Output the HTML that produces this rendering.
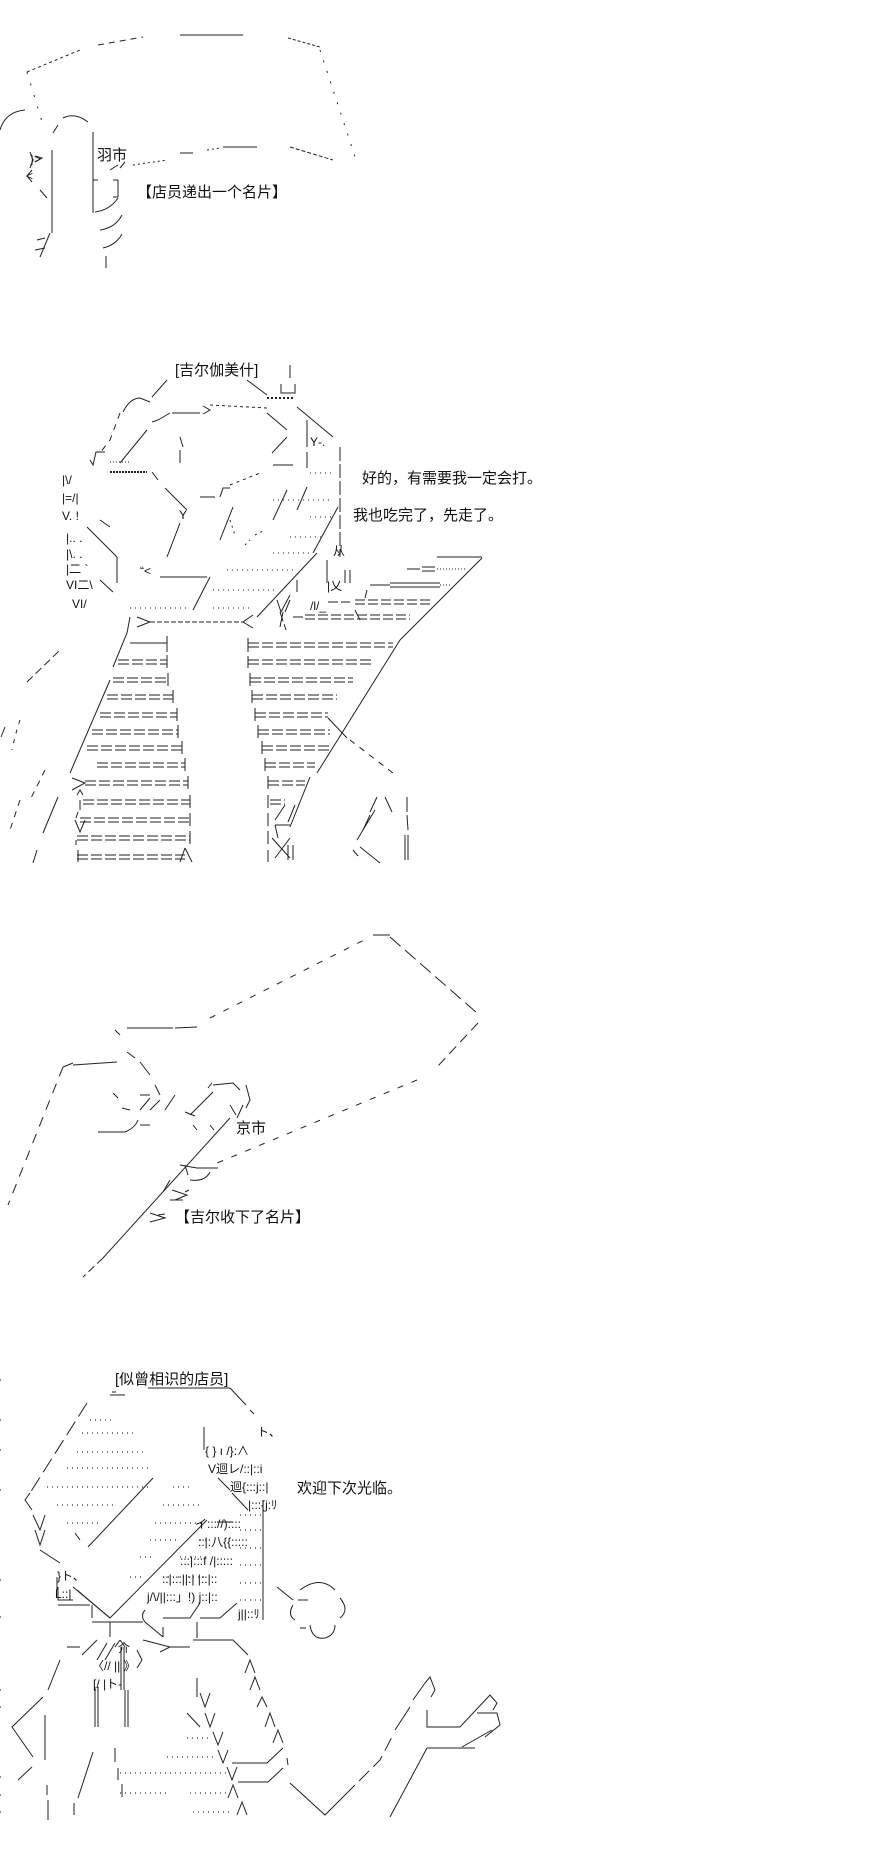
<!DOCTYPE html>
<html><head><meta charset="utf-8"><style>
html,body{margin:0;padding:0;background:#fff;}
svg{display:block;}
text{font-family:"Liberation Sans","Noto Sans CJK SC",sans-serif;fill:#111;}
.t{font-size:15px;}
.a{font-size:12px;}
</style></head><body>
<svg width="890" height="1859" viewBox="0 0 890 1859" xmlns="http://www.w3.org/2000/svg">
<rect width="890" height="1859" fill="#fff"/>
<g stroke="#222" stroke-width="1" fill="none">
<!-- ===== Section 1 ===== -->
<path d="M27 72 L80 50" stroke-dasharray="3 3"/>
<path d="M98 45 L143 37" stroke-dasharray="6 5"/>
<path d="M180 35 L243 35"/>
<path d="M288 38 L320 47" stroke-dasharray="3 2"/>
<path d="M320 50 L357 163" stroke-dasharray="2 9"/>
<path d="M133 165 L167 160" stroke-dasharray="2 3"/>
<path d="M180 153 L193 153"/>
<path d="M207 150 L220 148" stroke-dasharray="2 3"/>
<path d="M223 147 L257 147"/>
<path d="M290 147 L333 160" stroke-dasharray="4 2"/>
<path d="M27 72 L43 125" stroke-dasharray="2 10"/>
<path d="M0 130 Q5 112 25 110"/>
<path d="M52 150 L52 233 M50 233 L40 257"/>
<path d="M58 125 L53 133 M63 118 Q75 112 88 122"/>
<path d="M93 132 L93 213"/>
<path d="M93 180 L98 180 M118 180 L118 197 M113 180 L118 180 M113 197 L118 197"/>
<path d="M95 212 Q110 210 118 198 M100 230 Q115 228 122 215 M103 248 Q116 245 122 234 M106 256 L106 268"/>
<path d="M30 152 L33 160 L30 168 M35 156 L42 158 L35 162 M32 170 L27 176 L32 182 M40 190 L47 198" />
<path d="M110 170 L118 165 M120 168 L125 162"/>
<path d="M37 240 L45 238 M35 250 L45 248"/>
<!-- ===== Section 2 ===== -->
<path d="M167 380 L152 397"/>
<path d="M123 412 Q130 398 140 398 L150 402"/>
<path d="M247 380 L267 395"/>
<path d="M290 365 L290 378 M281 384 L281 393 L295 393 L295 384"/>
<path d="M172 413 L200 413 M203 406 L210 410 L203 414"/>
<path d="M210 405 L267 408" stroke-dasharray="3 3"/>
<path d="M267 398 L293 398" stroke-dasharray="2 2" stroke-width="2"/>
<path d="M267 413 L287 430 M297 407 L333 437"/>
<path d="M340 447 L340 557" stroke-dasharray="14 3"/>
<path d="M307 420 L307 447 M307 452 L307 468"/>
<path d="M152 422 L158 420 M158 420 L170 413" />
<path d="M120 413 L110 440 L100 453" stroke-dasharray="6 6"/>
<path d="M147 430 L120 463"/>
<path d="M180 437 L183 447 M180 450 L180 463"/>
<path d="M287 437 L272 453 M273 465 L293 465"/>
<path d="M90 460 L93 465 L96 452 L105 452"/>
<path d="M110 472 L147 472" stroke-dasharray="2 1" stroke-width="2"/>
<path d="M110 462 L130 462" stroke-dasharray="1 2"/>
<path d="M152 472 L158 480"/>
<path d="M165 488 L187 510"/>
<path d="M200 497 L215 497 M220 497 L223 488 L230 488"/>
<path d="M230 485 L260 473" stroke-dasharray="3 4"/>
<path d="M233 507 L220 540 M180 523 L167 557"/>
<path d="M287 490 L273 520 M307 487 L297 510"/>
<path d="M338 507 L313 553"/>
<path d="M317 553 L257 617"/>
<path d="M87 527 L117 557 M100 520 L110 527"/>
<path d="M117 557 L117 583"/>
<path d="M160 577 L207 577 M210 577 L193 610"/>
<path d="M100 580 L113 592"/>
<path d="M297 580 L297 592 M327 560 L327 583"/>
<path d="M277 600 L281 612 L290 595"/>
<path d="M230 520 L235 535 M245 545 L250 540 M255 535 L265 530" stroke-dasharray="2 4"/>
<path d="M310 473 L333 473 M273 500 L333 500 M310 517 L333 517 M290 537 L323 537 M273 553 L313 553 M227 570 L293 570 M213 590 L277 590 M130 608 L187 608 M213 608 L253 608" stroke-dasharray="1 4"/>
<path d="M130 617 L127 633 M137 617 L150 622 L137 627"/>
<path d="M150 622 L243 622" stroke-dasharray="5 2"/>
<path d="M253 615 L243 622 L253 628"/>
<path d="M283 612 L280 627 M285 612 L290 600"/>
<!-- parallelogram -->
<path d="M437 557 L482 557"/>
<path d="M482 558 L400 640 M400 640 L317 773 M310 777 L290 827"/>
<path d="M407 569 L420 569 M422 567 L435 567 M422 571 L435 571"/>
<path d="M437 569 L467 569" stroke-dasharray="1 2"/>
<path d="M370 585 L390 585 M390 583 L440 583 M390 587 L440 587" />
<path d="M440 585 L450 585" stroke-dasharray="1 2"/>
<path d="M328 602 L350 602 M355 600 L430 600 M355 604 L430 604" stroke-dasharray="10 3"/>
<path d="M280 612 L286 630 M293 617 L305 617 M305 615 L410 615 M305 619 L410 619" stroke-dasharray="10 3"/>
<path d="M345 570 L345 583 M350 570 L350 583"/>
<path d="M355 610 L360 620 M365 598 L367 590"/>
<!-- left edges stairs -->
<path d="M127 633 L113 667 M110 680 L70 773"/>
<path d="M27 682 L60 650" stroke-dasharray="8 4"/>
<path d="M5 727 L1 737"/>
<path d="M58 797 L43 833 M37 850 L33 863"/>
<path d="M45 770 L30 800 M20 800 L10 830" stroke-dasharray="6 6"/>
<!-- right side lower -->
<path d="M328 718 L347 738"/>
<path d="M350 740 L393 773" stroke-dasharray="6 6"/>
<path d="M407 797 L407 812 M407 815 L408 830"/>
<path d="M377 797 L370 812 M385 797 L392 812 M375 810 L357 840 M370 815 L363 830"/>
<path d="M360 847 L380 863 M353 850 L358 856"/>
<path d="M405 835 L405 860 M408 835 L408 860"/>
<path d="M20 720 Q15 735 12 750" stroke-dasharray="4 6"/>
</g>
<!-- stair rows -->
<g stroke="#222" stroke-width="1" stroke-dasharray="11 3">
<path d="M118 660 L167 660 M118 664 L167 664"/>
<path d="M113 678 L168 678 M113 682 L168 682"/>
<path d="M107 695 L173 695 M107 699 L173 699"/>
<path d="M100 713 L177 713 M100 717 L177 717"/>
<path d="M92 730 L178 730 M92 734 L178 734"/>
<path d="M87 746 L182 746 M87 750 L182 750"/>
<path d="M97 763 L185 763 M97 767 L185 767"/>
<path d="M85 781 L188 781 M85 785 L188 785"/>
<path d="M83 800 L190 800 M83 804 L190 804"/>
<path d="M80 818 L190 818 M80 822 L190 822"/>
<path d="M77 836 L190 836 M77 840 L190 840"/>
<path d="M77 855 L185 855 M77 859 L185 859"/>
<path d="M248 643 L393 643 M248 647 L393 647"/>
<path d="M248 660 L373 660 M248 664 L373 664"/>
<path d="M250 678 L353 678 M250 682 L353 682"/>
<path d="M252 695 L337 695 M252 699 L337 699"/>
<path d="M255 713 L328 713 M255 717 L328 717"/>
<path d="M258 730 L330 730 M258 734 L330 734"/>
<path d="M262 746 L332 746 M262 750 L332 750"/>
<path d="M265 763 L315 763 M265 767 L315 767"/>
<path d="M268 781 L305 781 M268 785 L305 785"/>
<path d="M270 800 L285 800 M270 804 L285 804"/>
</g>
<g stroke="#222" stroke-width="1" fill="none">
<path d="M130 643 L167 643 M167 636 L167 652"/>
<path d="M167 655 L167 668 M168 673 L168 686 M173 690 L173 703 M177 708 L177 721 M178 725 L178 738 M182 741 L182 754 M185 758 L185 771 M188 776 L188 789 M190 795 L190 808 M190 813 L190 826 M190 831 L190 844"/>
<path d="M185 848 L192 862 M185 848 L180 862"/>
<path d="M248 638 L248 652 M248 656 L248 668 M250 673 L250 686 M252 690 L252 703 M255 708 L255 721 M258 725 L258 738 M262 741 L262 754 M265 758 L265 771 M268 776 L268 789 M268 795 L268 808 M268 813 L268 826 M268 831 L268 844 M268 850 L268 862"/>
<path d="M72 778 L85 783 L72 790 M77 795 L80 790 L83 795 M80 800 L80 810 M78 812 L76 818 M75 820 L80 832 L85 820"/>
<path d="M76 840 L76 845 M78 850 L78 862"/>
<path d="M285 805 L275 820 M295 805 L288 822 M275 825 L290 825 M275 825 L278 838 M272 838 L290 858 M290 838 L275 858 M288 845 L288 860 M293 845 L293 860"/>
<!-- ===== Section 3 ===== -->
<path d="M373 935 L390 935"/>
<path d="M390 937 L477 1013" stroke-dasharray="14 6"/>
<path d="M478 1023 L437 1067" stroke-dasharray="10 6"/>
<path d="M115 1030 L120 1035"/>
<path d="M127 1028 L173 1028 M175 1028 L197 1027"/>
<path d="M210 1018 L370 937" stroke-dasharray="6 9"/>
<path d="M417 1080 L217 1163" stroke-dasharray="6 9"/>
<path d="M197 1168 L218 1168"/>
<path d="M73 1065 L117 1062 M63 1067 L73 1063"/>
<path d="M63 1067 L8 1205" stroke-dasharray="10 8"/>
<path d="M127 1052 L135 1058 M140 1062 L150 1075 M155 1085 L160 1095"/>
<path d="M113 1093 L118 1098 M140 1095 L150 1095 M122 1108 L130 1110 M140 1110 L150 1098"/>
<path d="M150 1110 L160 1100 M165 1110 L175 1095 M185 1112 L195 1116 M193 1125 L197 1130 M210 1125 L214 1130"/>
<path d="M98 1132 L125 1132 Q135 1128 138 1120 M140 1125 L150 1125"/>
<path d="M190 1115 L213 1092 M208 1088 L212 1083 M213 1085 L233 1083 L240 1090 M246 1085 L250 1100 L246 1108"/>
<path d="M230 1105 L236 1115 M243 1105 L237 1118"/>
<path d="M230 1118 L103 1258"/>
<path d="M103 1258 L83 1277" stroke-dasharray="8 4"/>
<path d="M197 1168 L180 1165 M185 1165 L188 1175 M190 1180 Q205 1182 210 1172 M170 1180 L163 1192 M172 1190 L187 1195 L175 1200 M170 1200 L183 1200 M150 1213 L165 1218 L150 1222 M158 1215 L165 1214"/>
<path d="M185 1192 L189 1190" />
<!-- ===== Section 4 ===== -->
<path d="M148 1388 L230 1388 M230 1388 L246 1405 M250 1410 L254 1414"/>
<path d="M110 1395 L125 1395 M112 1392 L116 1392"/>
<path d="M87 1403 L30 1493" stroke-dasharray="16 6"/>
<path d="M30 1493 L25 1500 L32 1510 M33 1515 L40 1530 L45 1515 M35 1530 L40 1545 L45 1530 M40 1550 L60 1563"/>
<path d="M153 1478 L88 1547"/>
<path d="M207 1520 L110 1618 L77 1590"/>
<path d="M75 1533 L80 1540"/>
<path d="M204 1427 L204 1450"/>
<path d="M232 1493 L248 1510 M218 1478 L230 1490"/>
<path d="M217 1522 L232 1522"/>
<path d="M263 1500 L263 1620"/>
<path d="M57 1577 L57 1590 M58 1587 L58 1600 L73 1600 M73 1587 L110 1618"/>
<path d="M58 1605 L90 1605 M92 1605 L92 1618 M92 1622 L143 1622 M110 1622 L110 1637"/>
<path d="M145 1610 Q140 1616 145 1622 L163 1637 M163 1627 L163 1637"/>
<path d="M163 1618 L190 1618 M200 1603 L190 1618 M200 1618 L220 1618 L237 1603"/>
<path d="M197 1622 L197 1638"/>
<path d="M67 1647 L80 1647 M97 1640 L82 1655 M107 1643 L97 1660 M115 1643 L105 1660 M120 1640 L115 1647 M120 1640 L125 1647 M121 1647 L121 1690 M124 1647 L124 1690"/>
<path d="M143 1640 L170 1647 L160 1652 M170 1647 L190 1647 M193 1640 L233 1640 L248 1655"/>
<path d="M137 1650 L142 1660 L137 1668"/>
<path d="M95 1687 L95 1727 M98 1687 L98 1727 M125 1690 L125 1727 M128 1690 L128 1727"/>
<path d="M60 1660 L48 1690 M43 1697 L12 1727 L33 1757"/>
<path d="M45 1715 L45 1760 M48 1800 L48 1820 M47 1785 L47 1795"/>
<path d="M32 1767 L18 1780"/>
<path d="M93 1752 L78 1798 M74 1803 L74 1815"/>
<path d="M115 1748 L115 1762 M118 1768 L118 1780 M122 1784 L122 1797"/>
<path d="M197 1678 L197 1697"/>
<path d="M187 1713 L200 1727 M200 1693 L205 1707 L210 1693 M205 1713 L210 1727 L215 1713 M213 1732 L218 1745 L223 1732 M218 1750 L223 1763 L228 1750 M227 1767 L232 1780 L237 1767"/>
<path d="M245 1673 L250 1660 L255 1673 M250 1690 L255 1677 L260 1690 M257 1707 L262 1697 L267 1707 M265 1727 L270 1713 L275 1727 M273 1743 L278 1730 L283 1743 M228 1798 L233 1785 L238 1798 M237 1815 L242 1802 L247 1815"/>
<path d="M232 1763 L267 1763 L283 1748 M238 1782 L268 1782 L283 1768 M287 1758 L288 1765"/>
<path d="M277 1587 L293 1600"/>
<path d="M298 1600 L308 1600 M300 1590 Q320 1575 335 1590 M340 1598 Q350 1610 340 1618 M293 1605 Q287 1615 295 1620 M300 1628 L306 1628 M310 1625 Q312 1640 325 1638 Q335 1635 335 1625"/>
<path d="M290 1783 L325 1815 L345 1795"/>
<path d="M345 1795 L380 1760 L393 1735" stroke-dasharray="14 6"/>
<path d="M395 1730 L410 1707 M413 1700 L425 1683 L430 1677 L435 1690 L431 1697"/>
<path d="M427 1710 L427 1727 L460 1727 L490 1695 L497 1703 L493 1710 M477 1713 L497 1713 L500 1725 L485 1737 M462 1747 L492 1730"/>
<path d="M427 1748 L475 1748 M427 1748 L390 1817" />
<path d="M0 1380 L3 1380 M0 1420 L3 1420 M0 1450 L3 1450 M0 1490 L3 1490 M0 1580 L3 1580 M0 1617 L3 1617 M0 1690 L3 1690 M0 1707 L3 1707 M0 1777 L3 1777 M0 1795 L3 1795 M0 1812 L3 1812" stroke-dasharray="1 2"/>
</g>
<!-- dotted hatch -->
<g stroke="#333" stroke-width="1.2" stroke-dasharray="1 4">
<path d="M90 1420 L113 1420 M82 1433 L133 1433 M77 1452 L143 1452 M67 1468 L152 1468 M47 1487 L150 1487 M173 1487 L193 1487 M57 1505 L117 1505 M163 1505 L203 1505 M67 1523 L100 1523 M155 1523 L205 1523 M150 1540 L177 1540 M200 1540 L207 1540 M140 1557 L155 1557 M180 1557 L207 1557 M130 1577 L145 1577 M163 1577 L207 1577"/>
<path d="M240 1515 L263 1515 M240 1530 L263 1530 M240 1548 L263 1548 M240 1565 L263 1565 M240 1583 L263 1583 M240 1600 L263 1600"/>
<path d="M187 1738 L210 1738 M167 1757 L217 1757 M120 1773 L227 1773 M120 1793 L167 1793 M190 1793 L227 1793 M193 1812 L233 1812"/>
</g>
<!-- AA text fragments -->
<g class="a">
<text x="30" y="163" class="a">}&gt;</text>
<text x="26" y="180" class="a">&lt;</text>
<text x="62" y="484" class="a">|\/</text>
<text x="62" y="502" class="a">|=/|</text>
<text x="62" y="520" class="a">V. !</text>
<text x="66" y="542" class="a">|.. .</text>
<text x="66" y="558" class="a">|\. .</text>
<text x="66" y="573" class="a">|二 `</text>
<text x="66" y="589" class="a">VI二\</text>
<text x="72" y="608" class="a">VI/</text>
<text x="140" y="575" class="a">“&lt;</text>
<text x="179" y="519" class="a">Y</text>
<text x="310" y="446" class="a">Y‐.</text>
<text x="333" y="555" class="a">从</text>
<text x="327" y="590" class="a">|乂</text>
<text x="310" y="610" class="a">/l/_</text>
<text x="205" y="1455" class="a">{ }  ı  /}:∧</text>
<text x="257" y="1436" class="a">ト、</text>
<text x="208" y="1473" class="a">V迴レ/::|::i</text>
<text x="230" y="1491" class="a">迴{:::j::|</text>
<text x="248" y="1509" class="a">|:::{j:ﾘ</text>
<text x="195" y="1528" class="a">イ::://)::::</text>
<text x="198" y="1546" class="a">::|:八{{:::::</text>
<text x="180" y="1565" class="a">:::|:::f  /|:::::</text>
<text x="162" y="1583" class="a">::|:::||:|  |::|::</text>
<text x="147" y="1601" class="a">j/\/||:::」!)  j::|::</text>
<text x="238" y="1618" class="a">j||::ﾘ</text>
<text x="57" y="1580" class="a">}ト、</text>
<text x="55" y="1598" class="a">L::|</text>
<text x="118" y="1652" class="a">介</text>
<text x="92" y="1670" class="a">〈// ||   》</text>
<text x="93" y="1688" class="a">[/    |ト‐</text>
</g>
<!-- main labels -->
<g class="t">
<text x="97" y="160" class="t">羽市</text>
<text x="137" y="197" class="t">【店员递出一个名片】</text>
<text x="175" y="375" class="t">[吉尔伽美什]</text>
<text x="362" y="483" class="t">好的，有需要我一定会打。</text>
<text x="353" y="520" class="t">我也吃完了，先走了。</text>
<text x="236" y="1133" class="t">京市</text>
<text x="175" y="1222" class="t">【吉尔收下了名片】</text>
<text x="115" y="1384" class="t">[似曾相识的店员]</text>
<text x="297" y="1493" class="t">欢迎下次光临。</text>
</g>
</svg>
</body></html>
